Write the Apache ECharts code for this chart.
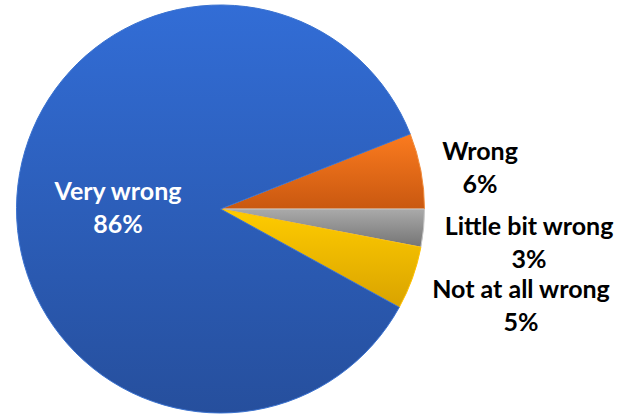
<!DOCTYPE html>
<html><head><meta charset="utf-8">
<script src="https://cdn.jsdelivr.net/npm/echarts@6/dist/echarts.min.js"></script>
<style>
html,body{margin:0;padding:0;background:#fff;overflow:hidden;}
#chart{width:618px;height:417px;}
</style></head>
<body><div id="chart"></div>
<script>
// Data (clockwise from the upper boundary of "Wrong")
var categories = ['Wrong', 'Little bit wrong', 'Not at all wrong', 'Very wrong'];
var values = [6, 3, 5, 86];
var percentLabels = ['6%', '3%', '5%', '86%'];

var gradients = [
  ['#fb7b1f', '#c95810', '#f08a3a'],
  ['#aaaaaa', '#747474', '#c8c8c8'],
  ['#ffcc00', '#d9a300', '#ffc000'],
  ['#326dd6', '#264f9d', '#3a72d0']
];
// label anchor positions (chart coordinates)
var labelPos = [[480, 166], [529, 241], [521, 304], [118, 206]];

var chart = echarts.init(document.getElementById('chart'), null, {renderer: 'svg'});
var data = categories.map(function (c, i) {
  var g = gradients[i];
  return {
    name: c,
    value: values[i],
    itemStyle: {
      color: new echarts.graphic.LinearGradient(0, 0, 0, 1, [
        {offset: 0, color: g[0]}, {offset: 1, color: g[1]}
      ]),
      borderColor: g[2],
      borderWidth: 1
    },
    label: {
      color: i === 3 ? '#ffffff' : '#000000'
    }
  };
});

chart.setOption({
  animation: false,
  series: [{
    type: 'pie',
    center: [220.5, 209],
    radius: 204,
    startAngle: 21.6,
    clockwise: true,
    avoidLabelOverlap: false,
    data: data,
    label: {
      show: true,
      position: 'outside',
      fontFamily: 'Lato, "Open Sans", sans-serif',
      fontWeight: 'bold',
      fontSize: 25,
      lineHeight: 33,
      align: 'center',
      formatter: function (p) { return p.name + '\n' + percentLabels[p.dataIndex]; }
    },
    labelLine: {show: false},
    labelLayout: function (p) {
      var pos = labelPos[p.dataIndex];
      return {x: pos[0], y: pos[1], align: 'center', verticalAlign: 'middle'};
    }
  }]
});
</script>
</body></html>
